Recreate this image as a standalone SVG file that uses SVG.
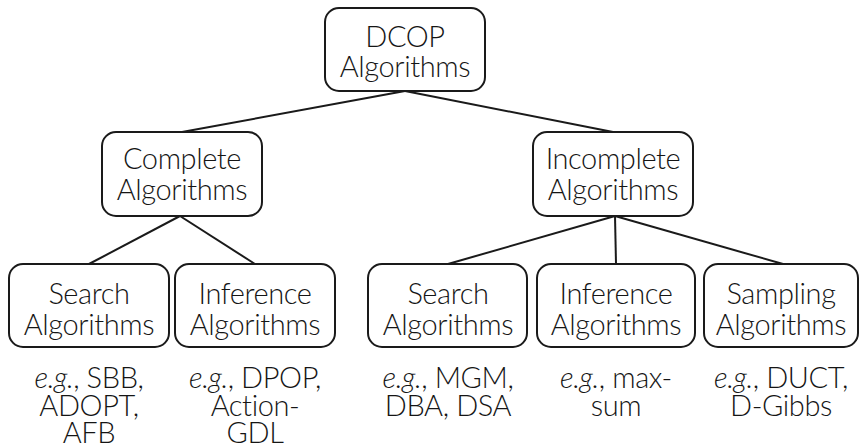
<svg xmlns="http://www.w3.org/2000/svg" width="860" height="447" viewBox="0 0 860 447">
<style>
.box{fill:#fff;stroke:#1a1a1a;stroke-width:2}
.t{font-family:Lato,"Open Sans","Liberation Sans",sans-serif;font-weight:300;font-size:29px;letter-spacing:-0.4px;fill:#151515;text-anchor:middle}
.i{font-style:italic}
.edge{stroke:#1a1a1a;stroke-width:2;fill:none}
</style>
<rect width="860" height="447" fill="#fff"/>
<g id="connectors">
<line class="edge" x1="405" y1="91" x2="182" y2="132"/>
<line class="edge" x1="405" y1="91" x2="613" y2="132"/>
<line class="edge" x1="180" y1="216" x2="89" y2="264"/>
<line class="edge" x1="180" y1="216" x2="255" y2="264"/>
<line class="edge" x1="615" y1="216" x2="448" y2="264"/>
<line class="edge" x1="615" y1="216" x2="616" y2="264"/>
<line class="edge" x1="615" y1="216" x2="783" y2="264"/>
</g>
<g id="root">
<rect class="box" x="325" y="8" width="160" height="83" rx="14"/>
<text class="t" x="405" y="47">DCOP</text>
<text class="t" x="405" y="77">Algorithms</text>
</g>
<g id="complete">
<rect class="box" x="102" y="132" width="160" height="84" rx="14"/>
<text class="t" x="182" y="169">Complete</text>
<text class="t" x="182" y="200">Algorithms</text>
</g>
<g id="incomplete">
<rect class="box" x="533" y="132" width="160" height="84" rx="14"/>
<text class="t" x="613" y="169">Incomplete</text>
<text class="t" x="613" y="200">Algorithms</text>
</g>
<g id="c-search">
<rect class="box" x="9" y="264" width="160" height="83" rx="14"/>
<text class="t" x="89" y="304">Search</text>
<text class="t" x="89" y="335">Algorithms</text>
</g>
<g id="c-inference">
<rect class="box" x="175" y="264" width="160" height="83" rx="14"/>
<text class="t" x="255" y="304">Inference</text>
<text class="t" x="255" y="335">Algorithms</text>
</g>
<g id="i-search">
<rect class="box" x="368" y="264" width="159" height="83" rx="14"/>
<text class="t" x="448" y="304">Search</text>
<text class="t" x="448" y="335">Algorithms</text>
</g>
<g id="i-inference">
<rect class="box" x="537" y="264" width="158" height="83" rx="14"/>
<text class="t" x="616" y="304">Inference</text>
<text class="t" x="616" y="335">Algorithms</text>
</g>
<g id="i-sampling">
<rect class="box" x="704" y="264" width="154" height="83" rx="14"/>
<text class="t" x="781" y="304">Sampling</text>
<text class="t" x="781" y="335">Algorithms</text>
</g>
<g id="ex-c-search">
<text class="t" x="89" y="388"><tspan class="i">e.g.</tspan>, SBB,</text>
<text class="t" x="89" y="416">ADOPT,</text>
<text class="t" x="89" y="443">AFB</text>
</g>
<g id="ex-c-inference">
<text class="t" x="255" y="388"><tspan class="i">e.g.</tspan>, DPOP,</text>
<text class="t" x="255" y="416">Action-</text>
<text class="t" x="255" y="443">GDL</text>
</g>
<g id="ex-i-search">
<text class="t" x="448" y="388"><tspan class="i">e.g.</tspan>, MGM,</text>
<text class="t" x="448" y="416">DBA, DSA</text>
</g>
<g id="ex-i-inference">
<text class="t" x="616" y="388"><tspan class="i">e.g.</tspan>, max-</text>
<text class="t" x="616" y="416">sum</text>
</g>
<g id="ex-i-sampling">
<text class="t" x="781" y="388"><tspan class="i">e.g.</tspan>, DUCT,</text>
<text class="t" x="781" y="416">D-Gibbs</text>
</g>
</svg>
